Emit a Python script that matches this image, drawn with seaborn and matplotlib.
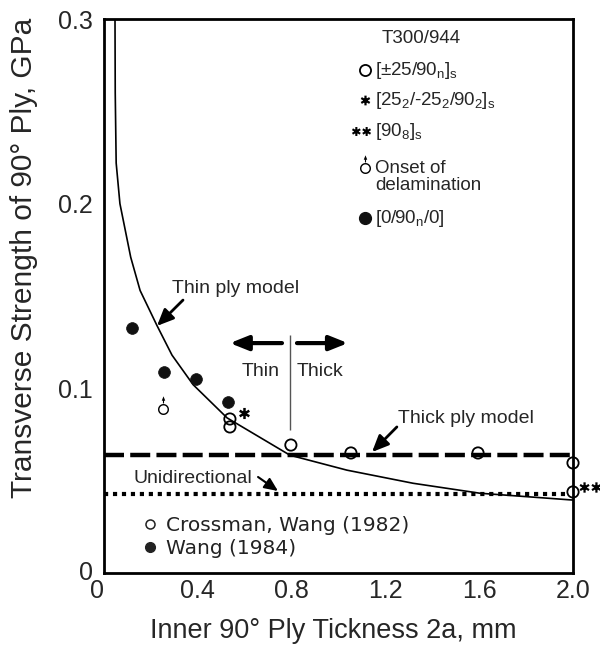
import numpy as np
import matplotlib
matplotlib.use("Agg")
import matplotlib.pyplot as plt
import matplotlib.transforms as mtransforms
import seaborn as sns
from matplotlib.path import Path
from matplotlib.lines import Line2D

# ---------------- data ----------------
thin_x = [0.047, 0.048, 0.052, 0.068, 0.114, 0.154, 0.226, 0.290, 0.380, 0.525,
          0.793, 1.036, 1.318, 1.603, 2.000]
thin_y = [0.300, 0.260, 0.222, 0.200, 0.171, 0.153, 0.134, 0.118, 0.102, 0.084,
          0.0638, 0.0557, 0.0486, 0.0432, 0.0395]
thick_ply = 0.0639          # thick ply model level
unidirectional = 0.0428     # unidirectional strength level

open_x = [0.537, 0.537, 0.797, 1.053, 1.595, 2.000, 2.000]       # [±25/90n]s, Crossman & Wang
open_y = [0.0834, 0.0791, 0.0693, 0.0650, 0.0650, 0.0596, 0.0439]
wang_x = [0.119, 0.256, 0.392, 0.529]                            # [0/90n/0], Wang 1984
wang_y = [0.1327, 0.1088, 0.1051, 0.0926]
onset_x = [0.252]                                               # onset of delamination
onset_y = [0.0888]
star_x = [0.597]                                                # [25_2/-25_2/90_2]s
star_y = [0.0866]
dstar_x = [2.072]                                               # [90_8]s
dstar_y = [0.0466]

key_title = "T300/944"
key_labels = [r"[±25/90$_\mathrm{n}$]$_\mathrm{s}$",
              r"[25$_2$/-25$_2$/90$_2$]$_\mathrm{s}$",
              r"[90$_8$]$_\mathrm{s}$",
              "Onset of\ndelamination",
              r"[0/90$_\mathrm{n}$/0]"]
source_labels = ["Crossman, Wang (1982)", "Wang (1984)"]

x_ticks = [0, 0.4, 0.8, 1.2, 1.6, 2.0]
x_ticklabels = ["0", "0.4", "0.8", "1.2", "1.6", "2.0"]
y_ticks = [0, 0.1, 0.2, 0.3]
y_ticklabels = ["0", "0.1", "0.2", "0.3"]

# ---------------- style ----------------
sns.set_style("white")
plt.rcParams["font.family"] = ["Liberation Sans", "DejaVu Sans"]
plt.rcParams["mathtext.fontset"] = "custom"
plt.rcParams["mathtext.rm"] = "Liberation Sans"
plt.rcParams["mathtext.it"] = "Liberation Sans:italic"
plt.rcParams["mathtext.bf"] = "Liberation Sans:bold"


def asterisk_path(centers, r=1.0):
    verts, codes = [], []
    for cx in centers:
        for k in range(3):
            a = np.pi / 2 + k * np.pi / 3
            verts += [(cx + r * np.cos(a), r * np.sin(a)),
                      (cx - r * np.cos(a), -r * np.sin(a))]
            codes += [Path.MOVETO, Path.LINETO]
    return Path(verts, codes)


def delam_path():
    t = np.linspace(0, 2 * np.pi, 48)
    outer = np.column_stack([np.cos(t), np.sin(t)])
    inner = np.column_stack([0.74 * np.cos(t[::-1]), 0.74 * np.sin(t[::-1])])
    stem = np.array([[-0.1, 1.1], [0.1, 1.1], [0.1, 1.75], [-0.1, 1.75], [-0.1, 1.1]])
    head = np.array([[-0.32, 1.6], [0.32, 1.6], [0.0, 2.4], [-0.32, 1.6]])
    verts, codes = [], []
    for poly in (outer, inner, stem, head):
        verts += list(map(tuple, poly))
        codes += [Path.MOVETO] + [Path.LINETO] * (len(poly) - 2) + [Path.CLOSEPOLY]
    return Path(verts, codes)


star1 = asterisk_path([0.0])
star2 = asterisk_path([-1.15, 1.15])
delam = delam_path()

fig = plt.figure(figsize=(6, 6.51), dpi=100)
ax = fig.add_axes([0.1733, 0.1198, 0.7817, 0.851])

# thin ply model curve
sns.lineplot(x=thin_x, y=thin_y, ax=ax, color="k", lw=1.2, estimator=None, sort=False, zorder=3)
# thick ply model and unidirectional levels
ax.axhline(thick_ply, color="k", lw=3.2, ls=(0, (4.5, 1.4)), dash_capstyle="butt", zorder=2)
ax.axhline(unidirectional, xmin=0, xmax=0.988, color="k", lw=3.0, ls=(0, (1.0, 1.15)),
           dash_capstyle="butt", zorder=2)

# data points
sns.scatterplot(x=open_x, y=open_y, ax=ax, s=66, marker="o", color="k", zorder=5, clip_on=False)
oc = ax.collections[-1]
oc.set_facecolor("none")
oc.set_edgecolor("k")
oc.set_linewidth(1.3)
oc.set_clip_on(False)

sns.scatterplot(x=wang_x, y=wang_y, ax=ax, s=72, marker="o", color="#111111",
                edgecolor="#111111", linewidth=0.5, zorder=5)

ax.plot(onset_x, onset_y, ls="none", marker=delam, ms=19, mfc="k", mec="none", zorder=5)
ax.plot(star_x, star_y, ls="none", marker=star1, ms=8, mfc="none", mec="k", mew=1.8, zorder=5)
ax.plot(dstar_x, dstar_y, ls="none", marker=star2, ms=15, mfc="none", mec="k", mew=1.6,
        zorder=5, clip_on=False)

# annotations
fs = 14
ax.text(0.290, 0.1516, "Thin ply model", fontsize=fs, va="baseline")
ax.annotate("", xy=(0.226, 0.1338), xytext=(0.337, 0.1478),
            arrowprops=dict(arrowstyle="-|>,head_length=0.5,head_width=0.22", lw=2, color="k",
                            shrinkA=0, shrinkB=0, mutation_scale=20))
ax.vlines(0.793, 0.0774, 0.1289, color="#555555", lw=1)
ax.annotate("", xy=(0.537, 0.1245), xytext=(0.759, 0.1245),
            arrowprops=dict(arrowstyle="-|>,head_length=0.55,head_width=0.22", lw=3, color="k",
                            shrinkA=0, shrinkB=0, mutation_scale=20))
ax.annotate("", xy=(1.040, 0.1245), xytext=(0.823, 0.1245),
            arrowprops=dict(arrowstyle="-|>,head_length=0.55,head_width=0.22", lw=3, color="k",
                            shrinkA=0, shrinkB=0, mutation_scale=20))
ax.text(0.588, 0.1067, "Thin", fontsize=fs, va="baseline")
ax.text(0.823, 0.1067, "Thick", fontsize=fs, va="baseline")
ax.text(1.254, 0.0812, "Thick ply model", fontsize=fs, va="baseline")
ax.annotate("", xy=(1.143, 0.0655), xytext=(1.249, 0.0791),
            arrowprops=dict(arrowstyle="-|>,head_length=0.5,head_width=0.22", lw=2, color="k",
                            shrinkA=0, shrinkB=0, mutation_scale=20))
ax.text(0.124, 0.0487, "Unidirectional", fontsize=fs, va="baseline")
ax.annotate("", xy=(0.742, 0.0444), xytext=(0.657, 0.0520),
            arrowprops=dict(arrowstyle="-|>,head_length=0.45,head_width=0.2", lw=1.5, color="k",
                            shrinkA=0, shrinkB=0, mutation_scale=18))

# key (upper right), laid out in axes fractions
kfs = 13.5
tA = ax.transAxes
ax.text(0.5928, 0.9567, key_title, fontsize=kfs, va="baseline", transform=tA)
key_markers = [dict(marker="o", ms=8, mfc="none", mec="k", mew=1.3),
               dict(marker=star1, ms=7, mfc="none", mec="k", mew=1.6),
               dict(marker=star2, ms=13, mfc="none", mec="k", mew=1.5),
               dict(marker=delam, ms=19, mfc="k", mec="none"),
               dict(marker="o", ms=8.5, mfc="#111111", mec="#111111")]
key_rows_y = [0.9079, 0.8538, 0.7978, 0.7148, 0.6408]
key_mark_y = [0.9079, 0.8538, 0.7978, 0.7310, 0.6408]
key_mark_x = [0.5565, 0.5565, 0.5490, 0.5565, 0.5565]
for lab, mk, ty, my, mx in zip(key_labels, key_markers, key_rows_y, key_mark_y, key_mark_x):
    ax.plot([mx], [my], ls="none", transform=tA, clip_on=False, **mk)
    ax.text(0.5778, ty, lab, fontsize=kfs, va="center", ha="left", transform=tA,
            linespacing=1.05)

# source key (lower left)
h2 = [Line2D([], [], ls="none", marker="o", ms=6.5, mfc="none", mec="#222222", mew=1.1),
      Line2D([], [], ls="none", marker="o", ms=7, mfc="#222222", mec="#222222")]
leg2 = ax.legend(h2, source_labels, loc="upper left",
                 bbox_to_anchor=(0.0855, 0.1028), frameon=False,
                 prop=dict(family="DejaVu Sans", size=14.5), labelcolor="#222222",
                 handlelength=0.6, handletextpad=0.5, labelspacing=0.2, borderpad=0,
                 borderaxespad=0)

# axes
ax.set_xlim(0, 2.0)
ax.set_ylim(0, 0.3)
ax.set_xticks(x_ticks)
ax.set_xticklabels(x_ticklabels)
ax.set_yticks(y_ticks)
ax.set_yticklabels(y_ticklabels)
ax.tick_params(axis="x", direction="in", length=7, width=1.3, labelsize=18, pad=4)
ax.tick_params(axis="y", direction="in", length=6, width=0.8, color="#777777", labelsize=18, pad=8)
for s in ax.spines.values():
    s.set_linewidth(2.0)
    s.set_color("k")
ax.set_xlabel("Inner 90° Ply Tickness 2a, mm", fontsize=19.5)
ax.set_ylabel("Transverse Strength of 90° Ply, GPa", fontsize=21.5)
ax.xaxis.set_label_coords(0.489, -0.082)
ax.yaxis.set_label_coords(-0.140, 0.569)

# the two "0" labels sit slightly off their ticks in the reference
xt0 = ax.xaxis.get_major_ticks()[0].label1
xt0.set_transform(xt0.get_transform() + mtransforms.ScaledTranslation(-0.07, 0, fig.dpi_scale_trans))
yt0 = ax.yaxis.get_major_ticks()[0].label1
yt0.set_transform(yt0.get_transform() + mtransforms.ScaledTranslation(0, 0.03, fig.dpi_scale_trans))

fig.savefig("out.png", dpi=100)
